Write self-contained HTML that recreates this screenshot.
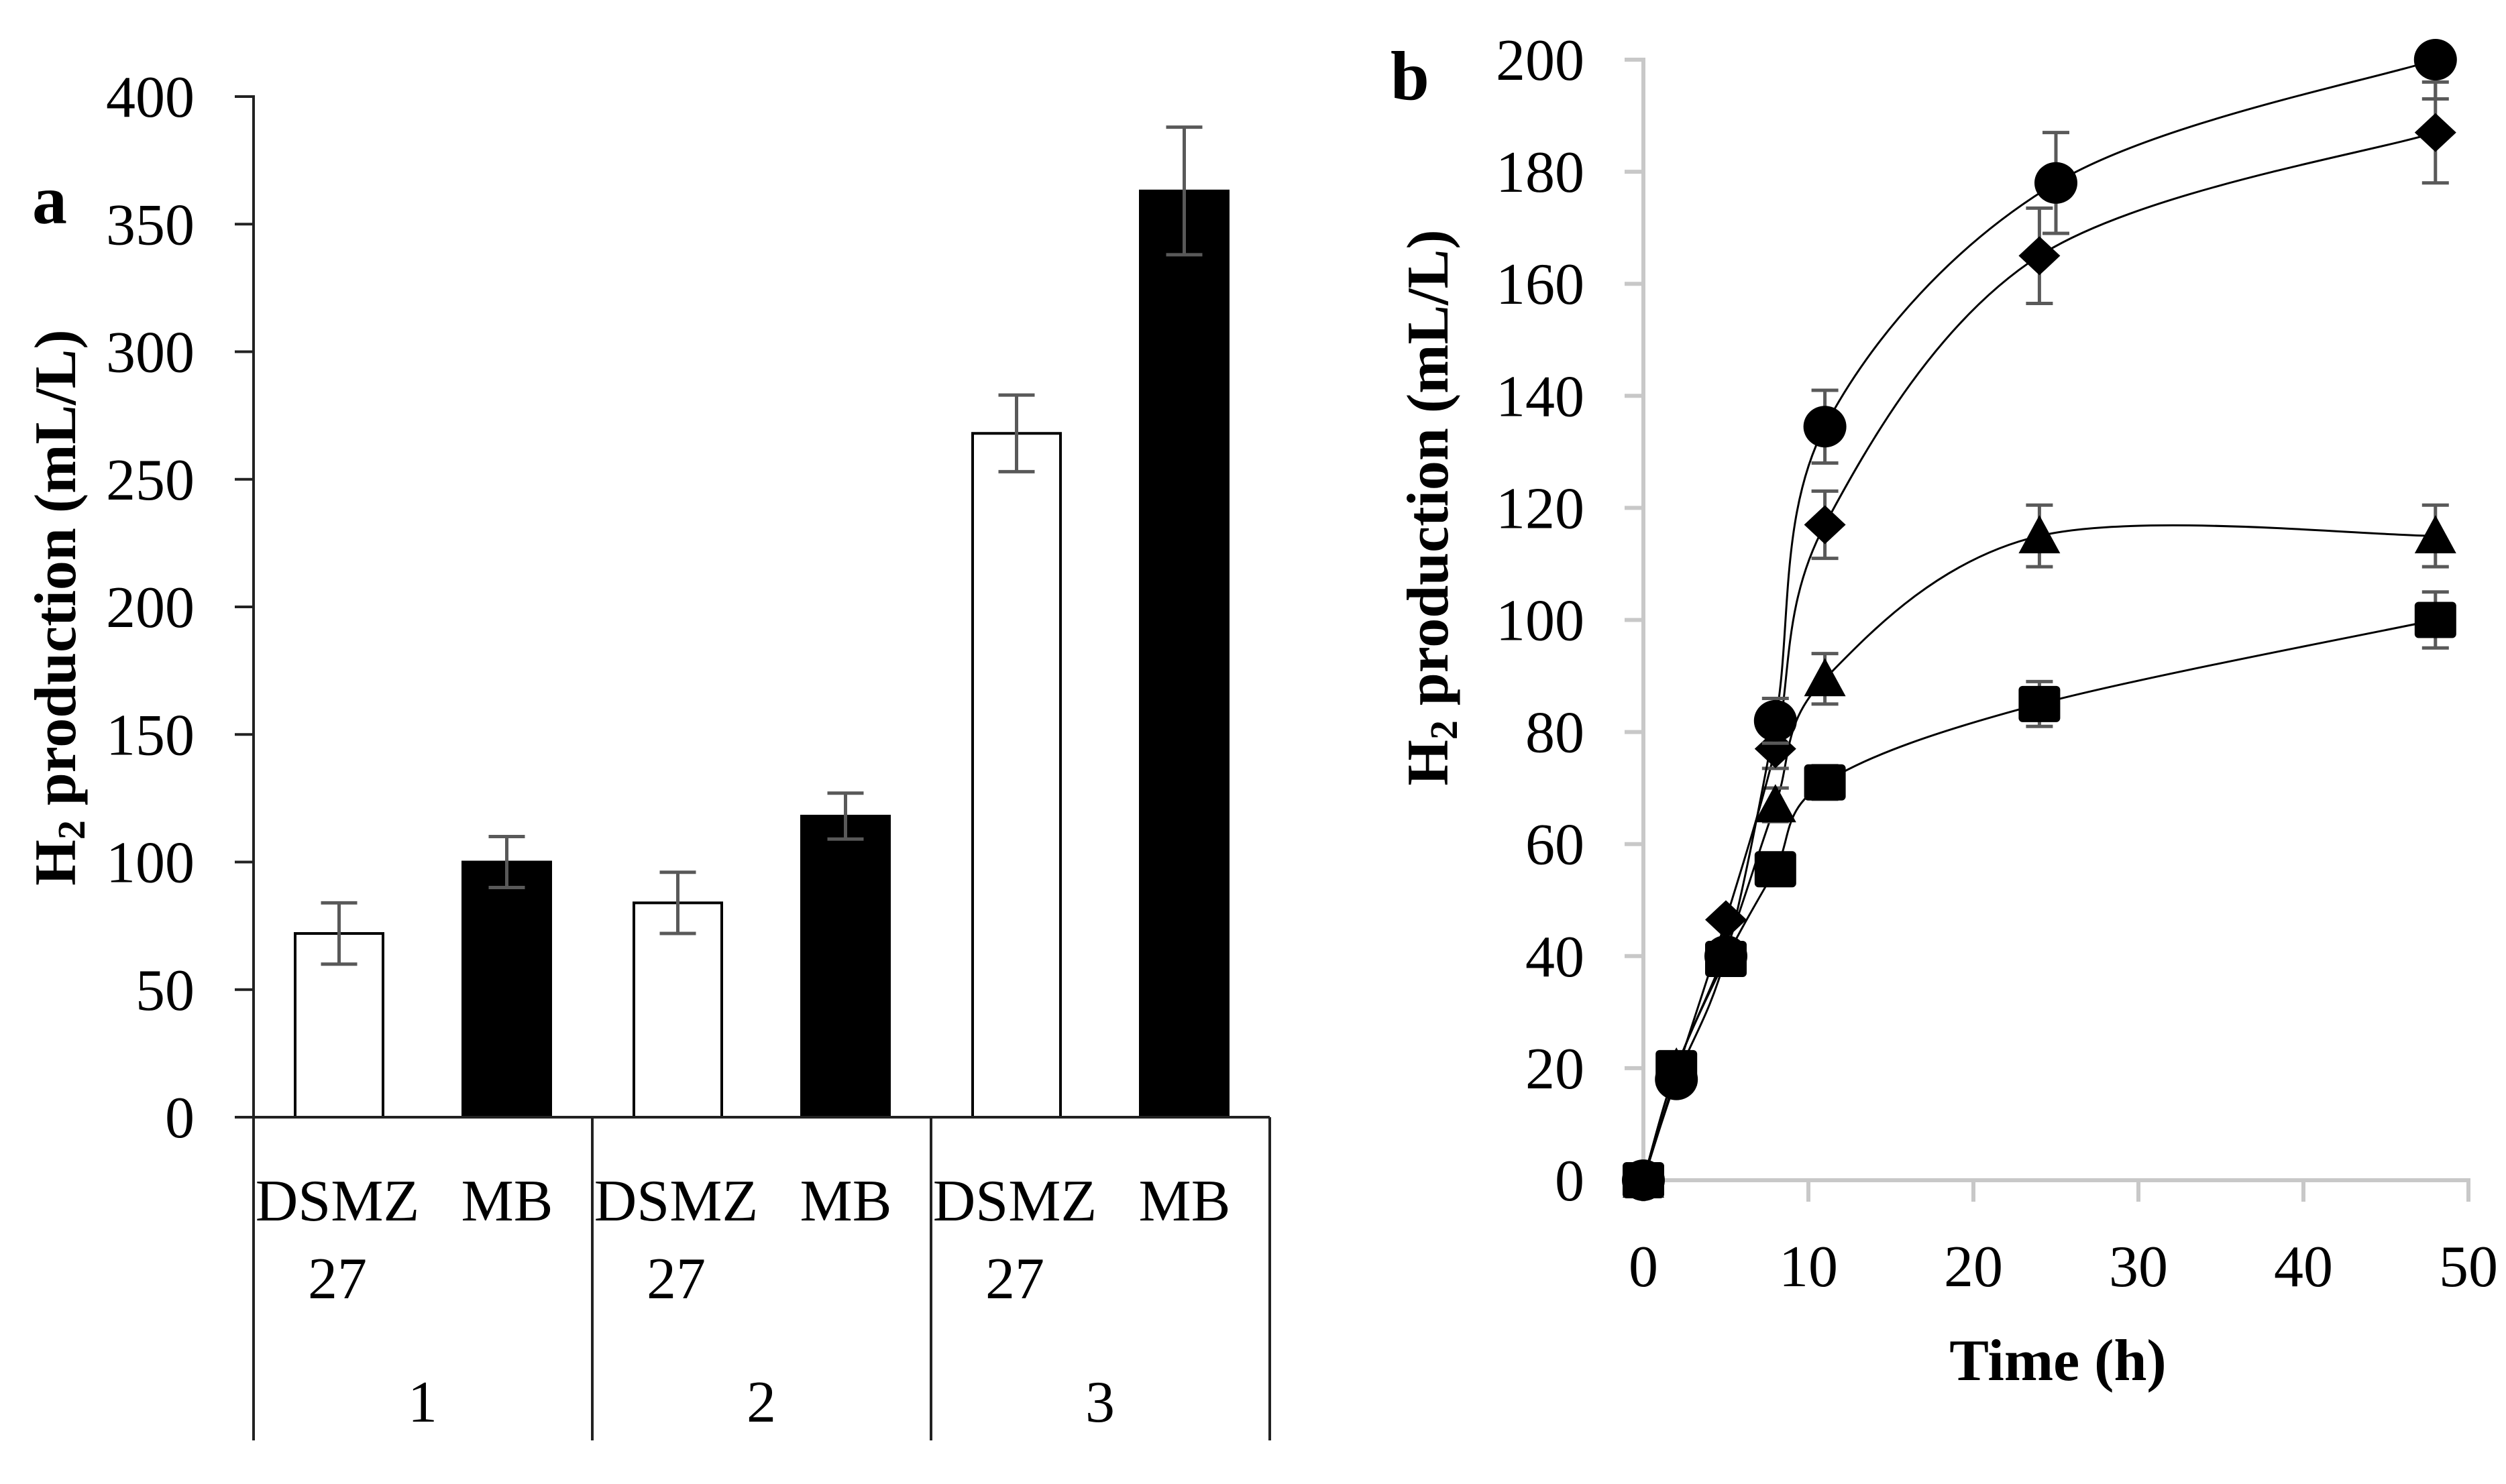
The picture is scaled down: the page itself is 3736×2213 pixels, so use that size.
<!DOCTYPE html>
<html><head><meta charset="utf-8">
<style>
html,body{margin:0;padding:0;background:#fff;}
svg{display:block;}
text{font-family:"Liberation Serif",serif;fill:#000;}
</style></head>
<body>
<svg id="fig" width="3736" height="2213" viewBox="0 0 3736 2213" xmlns="http://www.w3.org/2000/svg">
  <g id="chartA"></g>
  <g id="chartB"></g>
</svg>
<script>
// ---------- Chart a data ----------
const groups = ['1','2','3'];
const strains = ['DSMZ 27','MB'];
const dsmzValues = [72, 84, 268];
const mbValues = [100, 118, 363];
const dsmzErr = [12, 12, 15];
const mbErr = [10, 9, 25];
const aTicks = [0,50,100,150,200,250,300,350,400];

// ---------- Chart b data ----------
const circleT = [0,2,5,8,11,25,48];
const circleV = [0,18,40,82,134.5,178,200];
const circleE = [0,0,0,4,6.5,9,7];
const diamondT = [0,2,5,8,11,24,48];
const diamondV = [0,19,46.5,77,117,165,187];
const diamondE = [0,0,0,3.5,6,8.5,9];
const triangleT = [0,2,5,8,11,24,48];
const triangleV = [0,20,41,67,89.5,115,115];
const triangleE = [0,0,0,3,4.5,5.5,5.5];
const squareT = [0,2,5,8,11,24,48];
const squareV = [0,20,39.5,55.5,71,85,100];
const squareE = [0,0,0,0,3,4,5];
const bYTicks = [0,20,40,60,80,100,120,140,160,180,200];
const bXTicks = [0,10,20,30,40,50];

const NS='http://www.w3.org/2000/svg';
function mk(tag, attrs, parent, txt){
  const e=document.createElementNS(NS,tag);
  for(const k in attrs) e.setAttribute(k, attrs[k]);
  if(txt!==undefined) e.textContent=txt;
  parent.appendChild(e); return e;
}
const gA=document.getElementById('chartA');
const gB=document.getElementById('chartB');

// ===== Chart a =====
const aX0=378, aY0=1666, aY400=144, groupW=505;
function ay(v){ return aY0 + (aY400-aY0)*v/400; }
function gx(i){ return aX0 + i*groupW; }
const barW=131;
aTicks.forEach(function(t){
  const l=mk('line',{x1:350,x2:aX0,y1:ay(t),y2:ay(t),stroke:'#222','stroke-width':4},gA);
  
  
  const tx=mk('text',{x:290,y:ay(t)+30,'text-anchor':'end','font-size':88},gA,String(t));
  
  
});
function drawBar(i, v, e, fill, offset, name){
  const x=gx(i)+offset;
  const r=mk('rect',{x:x,y:ay(v),width:barW,height:aY0-ay(v),fill:fill,stroke:'#000','stroke-width':4},gA);
  
  
  const cx=x+barW/2;
  const eg=mk('g',{stroke:'#595959','stroke-width':5},gA);
  
  
  mk('line',{x1:cx,x2:cx,y1:ay(v+e),y2:ay(v-e)},eg);
  mk('line',{x1:cx-27,x2:cx+27,y1:ay(v+e),y2:ay(v+e)},eg);
  mk('line',{x1:cx-27,x2:cx+27,y1:ay(v-e),y2:ay(v-e)},eg);
}
groups.forEach(function(g,i){
  drawBar(i, dsmzValues[i], dsmzErr[i], '#fff', 62, 'bar-dsmz-'+g);
  drawBar(i, mbValues[i], mbErr[i], '#000', 312, 'bar-mb-'+g);
  const t1=mk('text',{x:gx(i)+125,y:1820,'text-anchor':'middle','font-size':88},gA,'DSMZ');
  
  
  const t2=mk('text',{x:gx(i)+125,y:1936,'text-anchor':'middle','font-size':88},gA,'27');
  
  
  const t3=mk('text',{x:gx(i)+378,y:1820,'text-anchor':'middle','font-size':88},gA,'MB');
  
  
  const t4=mk('text',{x:gx(i)+252,y:2120,'text-anchor':'middle','font-size':88},gA,g);
  
  
});
const axA=mk('g',{stroke:'#222','stroke-width':4},gA);


mk('line',{x1:aX0,x2:aX0,y1:ay(400)-2,y2:2148},axA);
mk('line',{x1:350,x2:gx(3),y1:aY0,y2:aY0},axA);
for(let i=1;i<=3;i++) mk('line',{x1:gx(i),x2:gx(i),y1:aY0,y2:2148},axA);
const ta=mk('text',{x:0,y:0,'font-size':88,'font-weight':'bold',transform:'translate(112,906) rotate(-90)','text-anchor':'middle'},gA);


ta.innerHTML='H<tspan font-size="58" dy="14">2</tspan><tspan dy="-14"> production (mL/L)</tspan>';
const la=mk('text',{x:48,y:333,'font-size':104,'font-weight':'bold'},gA,'a');



// ===== Chart b =====
const bX0=2450, bX50=3680, bY0=1760, bY200=89, bYMax=200;
function bx(t){ return bX0 + (bX50-bX0)*t/50; }
function by(v){ return bY0 + (bY200-bY0)*v/200; }
const axB=mk('g',{stroke:'#c8c8c8','stroke-width':6},gB);


mk('line',{x1:bX0,x2:bX0,y1:by(200)-3,y2:bY0},axB);
mk('line',{x1:bX0,x2:bX50+3,y1:bY0,y2:bY0},axB);
bYTicks.forEach(function(t){
  mk('line',{x1:2422,x2:bX0,y1:by(t),y2:by(t)},axB);
  const tx=mk('text',{x:2362,y:by(t)+30,'text-anchor':'end','font-size':88},gB,String(t));
  
  
});
bXTicks.forEach(function(t){
  mk('line',{x1:bx(t),x2:bx(t),y1:bY0,y2:bY0+32},axB);
  const tx=mk('text',{x:bx(t),y:1918,'text-anchor':'middle','font-size':88},gB,String(t));
  
  
});
function smoothPath(T,V){
  const p=T.map(function(t,i){return [bx(t),by(V[i])];});
  let d='M'+p[0][0]+','+p[0][1];
  for(let i=0;i<p.length-1;i++){
    const p0=p[Math.max(0,i-1)], p1=p[i], p2=p[i+1], p3=p[Math.min(p.length-1,i+2)];
    const k=1/6;
    const c1=[p1[0]+(p2[0]-p0[0])*k, p1[1]+(p2[1]-p0[1])*k];
    const c2=[p2[0]-(p3[0]-p1[0])*k, p2[1]-(p3[1]-p1[1])*k];
    d+=' C'+c1[0]+','+c1[1]+' '+c2[0]+','+c2[1]+' '+p2[0]+','+p2[1];
  }
  return d;
}
function drawSeries(T,V,E,shape,name){
  const g=mk('g',{},gB);
  
  
  const path=mk('path',{d:smoothPath(T,V),fill:'none',stroke:'#000','stroke-width':3},g);
  
  
  T.forEach(function(t,i){
    const x=bx(t), y=by(V[i]), e=E[i];
    if(e>0){
      const eg=mk('g',{stroke:'#595959','stroke-width':5},g);
      
      
      const top=V[i]+e;
      const clipped=top>bYMax;
      mk('line',{x1:x,x2:x,y1:by(Math.min(top,bYMax)),y2:by(V[i]-e)},eg);
      if(!clipped) mk('line',{x1:x-20,x2:x+20,y1:by(top),y2:by(top)},eg);
      mk('line',{x1:x-20,x2:x+20,y1:by(V[i]-e),y2:by(V[i]-e)},eg);
    }
    let m;
    if(shape==='circle') m=mk('ellipse',{cx:x,cy:y,rx:32,ry:31,fill:'#000'},g);
    else if(shape==='diamond') m=mk('polygon',{points:(x-31)+','+y+' '+x+','+(y-29)+' '+(x+31)+','+y+' '+x+','+(y+29),fill:'#000'},g);
    else if(shape==='triangle') m=mk('polygon',{points:(x-31)+','+(y+26)+' '+x+','+(y-31)+' '+(x+31)+','+(y+26),fill:'#000'},g);
    else m=mk('rect',{x:x-31,y:y-27,width:62,height:54,rx:6,fill:'#000'},g);
    
    
  });
}
drawSeries(squareT,squareV,squareE,'square','square');
drawSeries(triangleT,triangleV,triangleE,'triangle','triangle');
drawSeries(diamondT,diamondV,diamondE,'diamond','diamond');
drawSeries(circleT,circleV,circleE,'circle','circle');

const tb=mk('text',{x:0,y:0,'font-size':88,'font-weight':'bold',transform:'translate(2158,757) rotate(-90)','text-anchor':'middle'},gB);


tb.innerHTML='H<tspan font-size="58" dy="14">2</tspan><tspan dy="-14"> production (mL/L)</tspan>';
const xt=mk('text',{x:3068,y:2058,'font-size':88,'font-weight':'bold','text-anchor':'middle'},gB,'Time (h)');


const lb=mk('text',{x:2073,y:148,'font-size':104,'font-weight':'bold'},gB,'b');


</script>
</body></html>
